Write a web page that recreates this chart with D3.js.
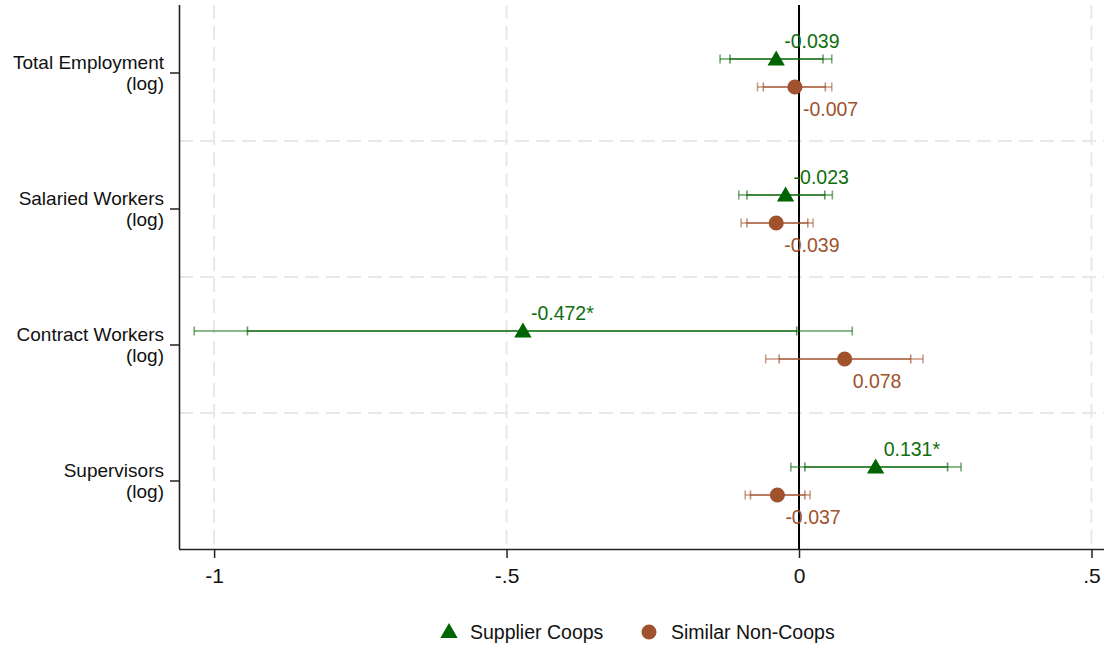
<!DOCTYPE html>
<html><head><meta charset="utf-8">
<script src="https://cdn.jsdelivr.net/npm/d3@7"></script>
<style>body{margin:0;background:#fff;} svg{display:block;} text{font-family:"Liberation Sans",Arial,Helvetica,sans-serif;}</style>
</head><body><svg id="c" width="1107" height="649"></svg>
<script>
const categories = ["Total Employment|(log)", "Salaried Workers|(log)", "Contract Workers|(log)", "Supervisors|(log)"];
const seriesNames = ["Supplier Coops", "Similar Non-Coops"];
const coopEst = [-0.039, -0.023, -0.472, 0.131];
const coopLabels = ["-0.039", "-0.023", "-0.472*", "0.131*"];
const coopLo95 = [-0.135, -0.103, -1.034, -0.014];
const coopHi95 = [0.056, 0.057, 0.091, 0.277];
const coopLo90 = [-0.118, -0.089, -0.943, 0.010];
const coopHi90 = [0.041, 0.044, -0.004, 0.254];
const nonEst = [-0.007, -0.039, 0.078, -0.037];
const nonLabels = ["-0.007", "-0.039", "0.078", "-0.037"];
const nonLo95 = [-0.071, -0.099, -0.057, -0.092];
const nonHi95 = [0.056, 0.024, 0.212, 0.019];
const nonLo90 = [-0.061, -0.089, -0.034, -0.083];
const nonHi90 = [0.045, 0.015, 0.191, 0.010];
const xTicks = [-1, -0.5, 0, 0.5];
const xTickLabels = ["-1", "-.5", "0", ".5"];

const svg = d3.select("#c");
const L = 179, R = 1104, T = 5, B = 549;
const x = d3.scaleLinear().domain([-1.060, 0.5214]).range([L, R]);
const y = d3.scaleBand().domain(categories).range([T, B]);
const green = "#006400", greenText = "#0d6e0d", brown = "#a0522d";
const FS = 19.5;

// gridlines
const grid = svg.append("g");
xTicks.forEach(t => grid.append("line").attr("x1", x(t)).attr("x2", x(t)).attr("y1", T).attr("y2", B)
  .attr("stroke", "#e8e8e8").attr("stroke-width", 2).attr("stroke-dasharray", "14,7"));
categories.slice(1).forEach(c => grid.append("line").attr("x1", L).attr("x2", R).attr("y1", y(c)).attr("y2", y(c))
  .attr("stroke", "#e8e8e8").attr("stroke-width", 2).attr("stroke-dasharray", "14,7"));

// axes
const xAxis = svg.append("g").attr("transform", `translate(0,${B})`)
  .call(d3.axisBottom(x).tickValues(xTicks).tickFormat((d, i) => xTickLabels[i]).tickSize(9).tickPadding(10));
xAxis.select(".domain").attr("d", `M${L},0.5H${R}`).attr("stroke", "#222").attr("stroke-width", 1.6);
xAxis.selectAll(".tick line").attr("stroke", "#222").attr("stroke-width", 1.5);
xAxis.selectAll(".tick text").attr("font-size", 21).attr("fill", "#111").attr("font-family", "Liberation Sans, Arial, sans-serif");

const yAxis = svg.append("g").attr("transform", `translate(${L},0)`)
  .call(d3.axisLeft(y).tickSize(9).tickFormat(""));
yAxis.select(".domain").attr("d", `M0.5,${T}V${B}`).attr("stroke", "#222").attr("stroke-width", 1.6);
yAxis.selectAll(".tick line").attr("stroke", "#222").attr("stroke-width", 1.5);
categories.forEach(c => {
  const parts = c.split("|");
  const cy = y(c) + y.bandwidth() / 2;
  const t = svg.append("text").attr("x", 164).attr("text-anchor", "end").attr("font-size", 19).attr("fill", "#111");
  t.append("tspan").attr("x", 164).attr("y", cy - 4).text(parts[0]);
  t.append("tspan").attr("x", 164).attr("y", cy + 17).text(parts[1]);
});

// zero line
svg.append("line").attr("x1", x(0)).attr("x2", x(0)).attr("y1", T).attr("y2", B).attr("stroke", "#000").attr("stroke-width", 2);

function drawSeries(est, lo95, hi95, lo90, hi90, labels, color, txtColor, dy, labDy, shape) {
  const g = svg.append("g");
  categories.forEach((c, i) => {
    const cy = y(c) + y.bandwidth() / 2 + dy;
    [[lo95[i], hi95[i], 0.45], [lo90[i], hi90[i], 0.55]].forEach(([a, b, op]) => {
      g.append("line").attr("x1", x(a)).attr("x2", x(b)).attr("y1", cy).attr("y2", cy)
        .attr("stroke", color).attr("stroke-width", 2).attr("stroke-opacity", op);
      [a, b].forEach(v => g.append("line").attr("x1", x(v)).attr("x2", x(v)).attr("y1", cy - 4.5).attr("y2", cy + 4.5)
        .attr("stroke", color).attr("stroke-width", 1.6).attr("stroke-opacity", op + 0.1));
    });
    g.append("path").attr("d", d3.symbol().type(shape).size(shape === d3.symbolCircle ? 180 : 130)())
      .attr("transform", `translate(${x(est[i])},${cy + (shape === d3.symbolTriangle ? 1.5 : 0)})`).attr("fill", color);
    g.append("text").attr("x", x(est[i]) + 8).attr("y", cy + labDy).attr("font-size", FS).attr("fill", txtColor).text(labels[i]);
  });
}
drawSeries(coopEst, coopLo95, coopHi95, coopLo90, coopHi90, coopLabels, green, greenText, -14, -11, d3.symbolTriangle);
drawSeries(nonEst, nonLo95, nonHi95, nonLo90, nonHi90, nonLabels, brown, brown, 14, 29, d3.symbolCircle);

// legend
const leg = svg.append("g");
leg.append("path").attr("d", d3.symbol().type(d3.symbolTriangle).size(130)()).attr("transform", "translate(449,633)").attr("fill", green);
leg.append("text").attr("x", 470).attr("y", 639).attr("font-size", FS).attr("fill", "#111").text(seriesNames[0]);
leg.append("circle").attr("cx", 649).attr("cy", 632).attr("r", 7.5).attr("fill", brown);
leg.append("text").attr("x", 671).attr("y", 639).attr("font-size", FS).attr("fill", "#111").text(seriesNames[1]);
</script></body></html>
